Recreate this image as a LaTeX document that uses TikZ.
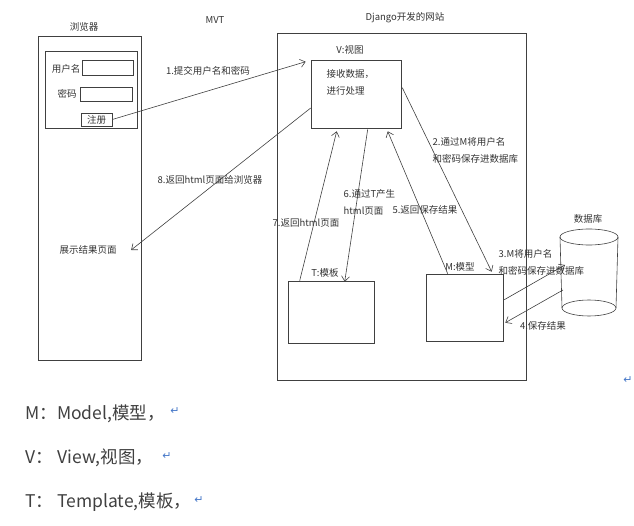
\documentclass[tikz,border=0pt]{standalone}
\usepackage{fontspec}
\setmainfont{Noto Sans CJK SC}
\newfontfamily\symfont{DejaVu Sans}
\usetikzlibrary{arrows.meta}
\definecolor{retblue}{RGB}{70,120,200}
\tikzset{
    box/.style={draw, inner sep=0pt},
    legend/.style={anchor=west, inner sep=0pt, text=black!75, font=\fontsize{17.5}{20}\selectfont},
    retmark/.style={text=retblue, font=\symfont\fontsize{11}{12}\selectfont}
}
\begin{document}
\begin{tikzpicture}[x=1pt, y=-1pt, line width=0.6pt, draw=black!75, text=black!80,
        >={Straight Barb[length=5pt,width=8pt]}, font=\fontsize{9.5}{17}\selectfont]
        \useasboundingbox (0,0) rectangle (634,526);
        % 浏览器
        \node (browsertitle) at (84,27) {浏览器};
        \node[box, minimum width=103, minimum height=324] (browser) at (89.5,198) {};
        \node[box, minimum width=92, minimum height=77] (form) at (91,89.5) {};
        \node (usertxt) at (66,69) {用户名};
        \node[box, minimum width=51, minimum height=15] (userbox) at (107.5,67.5) {};
        \node (pwdtxt) at (67,94) {密码};
        \node[box, minimum width=52, minimum height=14] (pwdbox) at (106,94.5) {};
        \node[box, minimum width=31, minimum height=13] (reg) at (96.5,119.5) {注册};
        \node (show) at (88,250) {展示结果页面};
        \node (mvt) at (215,20) {MVT};
        % Django开发的网站
        \node (sitetitle) at (405,18) {Django开发的网站};
        \node[box, minimum width=249, minimum height=347] (site) at (401.5,206.5) {};
        \node (vtitle) at (350,50) {V:视图};
        \node[box, minimum width=90, minimum height=68] (view) at (356,94) {};
        \node[align=left, anchor=west] (vtext) at (323,82) {接收数据，\\进行处理};
        \node (ttitle) at (325,273) {T:模板};
        \node[box, minimum width=86, minimum height=62] (tpl) at (331,312) {};
        \node (mtitle) at (460,267) {M:模型};
        \node[box, minimum width=77, minimum height=67] (model) at (464.5,307.5) {};
        % 数据库
        \node (dbtitle) at (588,219) {数据库};
        \draw (589,237) ellipse [x radius=29pt, y radius=8pt];
        \draw (560,237) -- (562,308) (618,237) -- (616,308);
        \draw (589,308) ellipse [x radius=27pt, y radius=8pt];
        \coordinate (dbin) at (565,265);
        \coordinate (dbout) at (563,290);
        % 箭头
        \draw[->] (reg.east) -- ([shift={(-5,2)}]view.north west);
        \draw[->] ([shift={(0,14)}]view.west) -- ([shift={(11,0)}]show.east);
        \draw[->] ([shift={(12,0)}]tpl.north west) -- ([shift={(26,3)}]view.south west);
        \draw[->] ([shift={(57,1)}]view.south west) -- ([shift={(57,1)}]tpl.north west);
        \draw[->] ([shift={(22,0)}]model.north west) -- ([shift={(77,3)}]view.south west);
        \draw[->] ([shift={(1,28)}]view.north east) -- ([shift={(66,-2)}]model.north west);
        \draw[->] ([shift={(1,26)}]model.north east) -- (dbin);
        \draw[->] (dbout) -- ([shift={(2,49)}]model.north east);
        \node (l1) at (208,71) {1.提交用户名和密码};
        \node (l8) at (210,180) {8.返回html页面给浏览器};
        \node (l7) at (306,223) {7.返回html页面};
        \node[align=left, anchor=west] (l6) at (340,202) {6.通过T产生\\html页面};
        \node (l5) at (425,210) {5.返回保存结果};
        \node[align=left, anchor=west] (l2) at (429,150) {2.通过M将用户名\\和密码保存进数据库};
        \node[align=left, anchor=west] (l3) at (495,262) {3.M将用户名\\和密码保存进数据库};
        \node (l4) at (543,326) {4.保存结果};
        % 说明
        \node[legend] (lm) at (25,414) {M：Model,模型，};
        \node[legend] (lv) at (25,458) {V：\hspace{5pt}View,视图，};
        \node[legend] (lt) at (25,502) {T：\hspace{4pt}Template,模板，};
        \node[retmark] (rm) at (175,411) {↵};
        \node[retmark] (rv) at (167,456) {↵};
        \node[retmark] (rt) at (199,500) {↵};
        \node[retmark] (rs) at (628,380) {↵};
\end{tikzpicture}
\end{document}
